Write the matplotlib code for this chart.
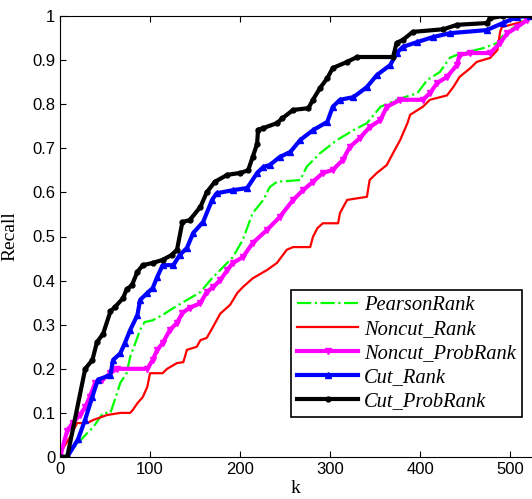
import matplotlib.pyplot as plt
import numpy as np

# curves (k, recall)
pearson_k = [0, 8, 26, 37, 48, 56, 61, 67, 74, 78, 89, 94, 103, 114, 126, 141, 156, 170, 178,
             192, 203, 214, 226, 233, 241, 267, 274, 289, 308, 326, 341, 356, 374, 397, 408,
             422, 433, 441, 470, 486, 492, 514]
pearson_r = [0, 0.005, 0.045, 0.068, 0.1, 0.1, 0.13, 0.168, 0.19, 0.227, 0.288, 0.306, 0.31,
             0.322, 0.338, 0.356, 0.374, 0.408, 0.424, 0.453, 0.492, 0.553, 0.583, 0.612, 0.624,
             0.628, 0.658, 0.689, 0.719, 0.741, 0.757, 0.794, 0.81, 0.825, 0.855, 0.873, 0.905,
             0.912, 0.927, 0.939, 0.955, 0.99]

noncut_k = [0, 2, 11, 19, 30, 37, 52, 67, 78, 81, 86, 92, 97, 100, 114, 119, 130, 137, 141,
            152, 156, 163, 170, 178, 189, 197, 203, 214, 230, 241, 252, 259, 278, 281, 286,
            292, 309, 311, 319, 341, 344, 352, 363, 370, 378, 386, 389, 403, 411, 430, 437,
            444, 456, 463, 478, 486, 489, 491, 520]
noncut_r = [0, 0.015, 0.045, 0.077, 0.077, 0.084, 0.095, 0.1, 0.1, 0.107, 0.122, 0.136, 0.159,
            0.19, 0.19, 0.2, 0.213, 0.215, 0.243, 0.25, 0.265, 0.27, 0.295, 0.325, 0.345, 0.372,
            0.385, 0.405, 0.424, 0.44, 0.47, 0.476, 0.476, 0.499, 0.519, 0.53, 0.53, 0.553,
            0.583, 0.59, 0.628, 0.644, 0.662, 0.689, 0.719, 0.757, 0.776, 0.794, 0.81, 0.82,
            0.839, 0.862, 0.882, 0.896, 0.905, 0.923, 0.964, 0.975, 0.99]

noncut_prob_k = [0, 8, 14, 22, 28, 33, 39, 47, 56, 63, 97, 103, 108, 114, 122, 130, 136, 144,
                 156, 163, 170, 178, 186, 192, 203, 214, 230, 244, 259, 270, 281, 292, 303,
                 314, 322, 333, 344, 356, 363, 378, 403, 411, 419, 430, 441, 444, 456, 478,
                 489, 497, 508, 519]
noncut_prob_r = [0, 0.06, 0.077, 0.095, 0.113, 0.136, 0.168, 0.175, 0.19, 0.2, 0.2, 0.22, 0.243,
                 0.258, 0.288, 0.304, 0.327, 0.338, 0.349, 0.374, 0.385, 0.401, 0.424, 0.44,
                 0.453, 0.485, 0.515, 0.544, 0.583, 0.605, 0.624, 0.644, 0.651, 0.673, 0.703,
                 0.723, 0.748, 0.764, 0.794, 0.81, 0.81, 0.825, 0.848, 0.862, 0.889, 0.912,
                 0.916, 0.916, 0.939, 0.961, 0.975, 0.991]

cut_k = [0, 8, 20, 28, 36, 42, 56, 59, 67, 72, 78, 86, 89, 97, 103, 108, 114, 126, 133, 141,
         148, 159, 169, 174, 192, 208, 219, 226, 233, 244, 256, 267, 281, 297, 303, 311, 326,
         341, 352, 367, 374, 381, 397, 414, 433, 474, 492, 508, 522]
cut_r = [0, 0, 0.04, 0.085, 0.137, 0.175, 0.186, 0.22, 0.235, 0.258, 0.288, 0.322, 0.356,
         0.372, 0.383, 0.408, 0.435, 0.435, 0.458, 0.474, 0.508, 0.533, 0.583, 0.598, 0.605,
         0.61, 0.644, 0.658, 0.662, 0.68, 0.692, 0.719, 0.741, 0.76, 0.794, 0.81, 0.816, 0.839,
         0.866, 0.889, 0.916, 0.93, 0.941, 0.952, 0.961, 0.968, 0.984, 0.998, 1.0]

cut_prob_k = [0, 8, 28, 36, 41, 48, 56, 61, 70, 74, 80, 86, 92, 103, 114, 124, 130, 136, 144,
              156, 163, 172, 186, 200, 209, 214, 219, 220, 226, 241, 247, 259, 276, 281, 289,
              297, 303, 319, 330, 370, 374, 381, 392, 426, 441, 474, 478, 492, 524]
cut_prob_r = [0, 0, 0.2, 0.22, 0.26, 0.28, 0.33, 0.34, 0.36, 0.38, 0.39, 0.42, 0.435, 0.44,
              0.447, 0.458, 0.47, 0.533, 0.537, 0.567, 0.6, 0.624, 0.64, 0.644, 0.65, 0.68,
              0.71, 0.742, 0.746, 0.757, 0.768, 0.787, 0.791, 0.81, 0.837, 0.859, 0.882, 0.896,
              0.907, 0.907, 0.939, 0.946, 0.964, 0.97, 0.98, 0.984, 0.995, 1.0, 1.0]

fig = plt.figure(figsize=(5.32, 4.99), dpi=100)
ax = fig.add_axes([60/532, 42/499, 472/532, 441/499])

ax.plot(pearson_k, pearson_r, '-.', color='#00ff00', lw=1.6, label='PearsonRank')
ax.plot(noncut_k, noncut_r, '-', color='red', lw=1.6, label='Noncut_Rank')
ax.plot(noncut_prob_k, noncut_prob_r, '-', color='magenta', lw=3, marker='v', ms=5,
        label='Noncut_ProbRank')
ax.plot(cut_k, cut_r, '-', color='blue', lw=3, marker='^', ms=5, label='Cut_Rank')
ax.plot(cut_prob_k, cut_prob_r, '-', color='black', lw=3, marker='o', ms=3.5,
        label='Cut_ProbRank')

ax.set_xlim(0, 524.4)
ax.set_ylim(0, 1)
ax.set_xticks(np.arange(0, 501, 100))
ax.set_yticks(np.arange(0, 1.01, 0.1))
ax.set_yticklabels(['0', '0.1', '0.2', '0.3', '0.4', '0.5', '0.6', '0.7', '0.8', '0.9', '1'])
ax.tick_params(direction='in', top=True, labelsize=12, length=4)
for t in ax.get_xticklabels() + ax.get_yticklabels():
    t.set_family('Liberation Sans')
ax.spines['right'].set_visible(False)

ax.set_xlabel('k', fontsize=14, family='Liberation Serif', labelpad=2)
ax.set_ylabel('Recall', fontsize=14, family='Liberation Serif', labelpad=10)

leg = ax.legend(loc='lower right', bbox_to_anchor=(0.979, 0.091), borderaxespad=0,
                fancybox=False, edgecolor='black', framealpha=1, handlelength=2.95,
                borderpad=0.3, labelspacing=0.22, handletextpad=0.3,
                prop={'family': 'Liberation Serif', 'style': 'italic', 'size': 14.8})
leg.get_frame().set_linewidth(1.2)

fig.savefig('out.png', dpi=100)
